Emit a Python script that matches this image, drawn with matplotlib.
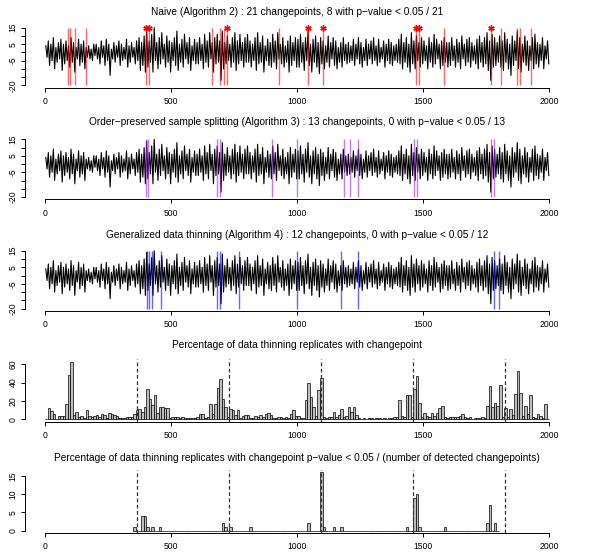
import numpy as np
import matplotlib.pyplot as plt

plt.rcParams['font.family'] = ['Liberation Sans', 'DejaVu Sans']

# envelope of the simulated series, max / min per block of 10 observations
block = 10
series_hi = [4, 7, 5, 9, 3, 6, 8, 5, 7, 4, 9, 6, 3, 8, 5, 7, 3, 4, 2, 5,
             5, 3, 7, 4, 8, 5, 2, 6, 4, 7, 5, 3, 8, 4, 6, 3, 7, 9, 6, 10,
             14, 7, 11, 15, 6, 9, 12, 5, 10, 7, 6, 9, 13, 5, 8, 11, 6, 9, 4, 8,
             6, 9, 5, 11, 7, 12, 6, 9, 11, 7, 13, 6, 10, 5, 9, 12, 7, 11, 6, 9,
             11, 7, 5, 9, 12, 6, 10, 4, 8, 6, 11, 7, 12, 5, 9, 4, 7, 10, 6, 9,
             8, 11, 6, 9, 13, 5, 8, 10, 6, 9, 7, 4, 10, 6, 9, 7, 3, 6, 9, 5,
             6, 4, 8, 5, 9, 6, 3, 8, 5, 7, 9, 4, 8, 3, 7, 5, 8, 6, 4, 5,
             8, 11, 6, 9, 5, 12, 7, 10, 6, 9, 7, 4, 9, 6, 11, 8, 5, 7, 9, 6,
             6, 9, 4, 8, 6, 10, 5, 8, 9, 6, 4, 8, 10, 6, 9, 12, 7, 11, 9, 6,
             10, 7, 12, 8, 5, 10, 7, 13, 9, 5, 10, 7, 4, 9, 11, 6, 5, 9, 4, 7]
series_lo = [-3, -8, -5, -10, -6, -4, -11, -7, -5, -9, -6, -12, -4, -8, -6, -10, -3, -4, -5, -2,
             -4, -7, -3, -8, -5, -14, -4, -6, -3, -8, -5, -4, -9, -6, -3, -7, -5, -11, -8, -12,
             -9, -6, -12, -5, -10, -7, -4, -9, -6, -12, -5, -8, -11, -6, -9, -4, -7, -11, -5, -7,
             -7, -5, -10, -6, -9, -4, -12, -7, -6, -17, -10, -7, -5, -9, -6, -11, -7, -5, -9, -6,
             -6, -9, -5, -11, -7, -6, -12, -5, -8, -9, -6, -10, -4, -7, -9, -6, -12, -8, -5, -9,
             -9, -6, -11, -5, -8, -12, -6, -9, -13, -7, -10, -6, -9, -4, -8, -10, -6, -9, -5, -7,
             -6, -5, -8, -4, -7, -9, -5, -8, -4, -7, -5, -8, -6, -4, -9, -5, -7, -8, -5, -6,
             -7, -10, -6, -9, -12, -7, -10, -5, -9, -7, -5, -10, -6, -9, -7, -4, -10, -8, -6, -9,
             -8, -5, -9, -6, -10, -4, -8, -6, -9, -5, -7, -10, -6, -9, -7, -11, -17, -9, -8, -6,
             -9, -11, -6, -10, -14, -8, -5, -10, -12, -6, -8, -11, -5, -10, -7, -9, -5, -10, -4, -7]

true_cps = [365, 730, 1095, 1460, 1825]

naive_cps = [90, 100, 120, 163, 401, 411, 663, 694, 708, 721, 927,
             1042, 1101, 1471, 1484, 1582, 1769, 1807, 1873, 1884, 1927]
naive_sig = [401, 411, 721, 1042, 1101, 1471, 1484, 1769]
split_cps = [400, 409, 683, 693, 901, 999, 1187, 1210, 1242, 1464, 1476, 1770, 1782]
thin_cps = [403, 412, 425, 460, 683, 692, 769, 1000, 1175, 1242, 1782, 1800]

# percentage of thinning replicates with a changepoint, bins of width 10
bin_width = 10
pct_cp = [0, 12, 9, 6, 0, 4, 4, 4, 17, 48, 63, 5, 8, 2, 4, 1, 10, 4, 2, 4,
          5, 3, 6, 5, 1, 7, 6, 5, 4, 1, 1, 1, 2, 2, 3, 6, 10, 11, 8, 13,
          33, 22, 16, 27, 7, 13, 13, 12, 12, 1, 3, 2, 2, 1, 2, 1, 1, 1, 1, 1,
          3, 6, 6, 1, 2, 17, 6, 17, 34, 44, 22, 13, 3, 11, 10, 5, 10, 1, 4, 5,
          5, 1, 1, 4, 2, 5, 2, 6, 7, 5, 1, 1, 3, 2, 1, 3, 1, 6, 10, 4,
          4, 1, 1, 21, 40, 24, 13, 4, 32, 45, 2, 1, 2, 2, 8, 2, 5, 11, 2, 4,
          13, 8, 13, 5, 1, 0, 1, 0, 1, 1, 0, 1, 1, 0, 1, 0, 1, 1, 2, 2,
          21, 4, 2, 27, 27, 2, 33, 47, 18, 2, 7, 4, 2, 7, 4, 7, 12, 15, 3, 1,
          2, 2, 2, 2, 4, 6, 2, 1, 2, 0, 1, 1, 1, 2, 1, 14, 36, 13, 18, 14,
          37, 2, 12, 2, 11, 5, 28, 53, 29, 4, 14, 6, 26, 2, 1, 6, 4, 1, 17, 0]

# percentage with significant p-value (bins 350..1790, only nonzero listed)
sig_first, sig_last = 350, 1790
sig_at = [350, 380, 390, 400, 420, 450, 700, 710, 730, 810,
          1040, 1090, 1100, 1140, 1170, 1430, 1460, 1470, 1480, 1580, 1750, 1760, 1780]
sig_pct = [1, 4, 4, 1, 1, 1, 2, 1, 1, 1,
           2, 16, 1, 1, 1, 1, 9, 10, 1, 1, 2, 7, 2]

titles = ['Naive (Algorithm 2) : 21 changepoints, 8 with p\u2212value < 0.05 / 21',
          'Order\u2212preserved sample splitting (Algorithm 3) : 13 changepoints, 0 with p\u2212value < 0.05 / 13',
          'Generalized data thinning (Algorithm 4) : 12 changepoints, 0 with p\u2212value < 0.05 / 12',
          'Percentage of data thinning replicates with changepoint',
          'Percentage of data thinning replicates with changepoint p\u2212value < 0.05 / (number of detected changepoints)']

W, H = 595, 558
fig = plt.figure(figsize=(W / 100, H / 100), dpi=100)

x_left, x_w = 25, 544.6
regions = [(25.4, 87.6), (137.0, 199.3), (248.4, 311.0), (359.2, 421.6), (470.0, 533.0)]
title_y = [12, 122, 235, 345, 458]
title_fs = 7.3
tick_fs = 6.2


def make_axes(top, bottom):
    ax = fig.add_axes([x_left / W, 1 - bottom / H, x_w / W, (bottom - top) / H])
    ax.set_xlim(-80, 2080)
    ax.spines['top'].set_visible(False)
    ax.spines['right'].set_visible(False)
    ax.spines['bottom'].set_bounds(0, 2000)
    ax.spines['left'].set_linewidth(0.7)
    ax.spines['bottom'].set_linewidth(0.7)
    ax.set_xticks([0, 500, 1000, 1500, 2000])
    ax.tick_params(length=3.2, width=0.7, labelsize=tick_fs, pad=3.5)
    ax.tick_params(axis='y', pad=2)
    ax.patch.set_alpha(0)
    return ax


# trace through the block envelope: up to the block max, down to the block min
starts = np.arange(len(series_hi)) * block
xs = np.column_stack([starts + block * 0.25, starts + block * 0.75]).ravel()
ys = np.column_stack([series_hi, series_lo]).ravel()

line_cols = ['red', '#a020f0', 'blue']
cp_sets = [naive_cps, split_cps, thin_cps]
for k in range(3):
    ax = make_axes(*regions[k])
    ax.set_ylim(-21.4, 16.4)
    ax.plot(xs, ys, color='black', lw=0.8)
    ax.vlines(cp_sets[k], -20, 15, color=line_cols[k], alpha=0.6, lw=1.0)
    if k == 0:
        ax.plot(naive_sig, [15] * len(naive_sig), ls='', marker=(6, 2, 0),
                color='red', ms=4.5, mew=1.0)
    ax.spines['left'].set_bounds(-20, 15)
    ax.set_yticks([15, 10, 5, 0, -5, -10, -15, -20])
    ax.set_yticklabels(['15', '', '5', '', '-5', '', '', '-20'], rotation=90, va='center')

# histogram of changepoint percentages
ax = make_axes(*regions[3])
edges = np.arange(len(pct_cp)) * bin_width
ax.bar(edges, pct_cp, width=bin_width, align='edge', color='#bebebe', edgecolor='black', linewidth=0.5)
ax.set_ylim(-2.52, 65.52)
ax.spines['left'].set_bounds(0, 60)
ax.set_yticks([0, 20, 40, 60])
ax.set_yticklabels(['0', '20', '40', '60'], rotation=90, va='center')
for c in true_cps:
    ax.axvline(c, color='#333333', ls=(0, (3, 2)), lw=0.9)

ax = make_axes(*regions[4])
sig_edges = np.arange(sig_first, sig_last + bin_width, bin_width)
sig_vals = np.zeros(len(sig_edges))
for a, v in zip(sig_at, sig_pct):
    sig_vals[(a - sig_first) // bin_width] = v
ax.bar(sig_edges, sig_vals, width=bin_width, align='edge', color='#bebebe', edgecolor='black', linewidth=0.5)
ax.set_ylim(-0.64, 16.64)
ax.spines['left'].set_bounds(0, 15)
ax.set_yticks([0, 5, 10, 15])
ax.set_yticklabels(['0', '5', '10', '15'], rotation=90, va='center')
for c in true_cps:
    ax.axvline(c, color='#333333', ls=(0, (3, 2)), lw=0.9)

for t, ty in zip(titles, title_y):
    fig.text((x_left + x_w / 2) / W, 1 - ty / H, t, ha='center', va='center', fontsize=title_fs)

fig.savefig('out.png', dpi=100)
